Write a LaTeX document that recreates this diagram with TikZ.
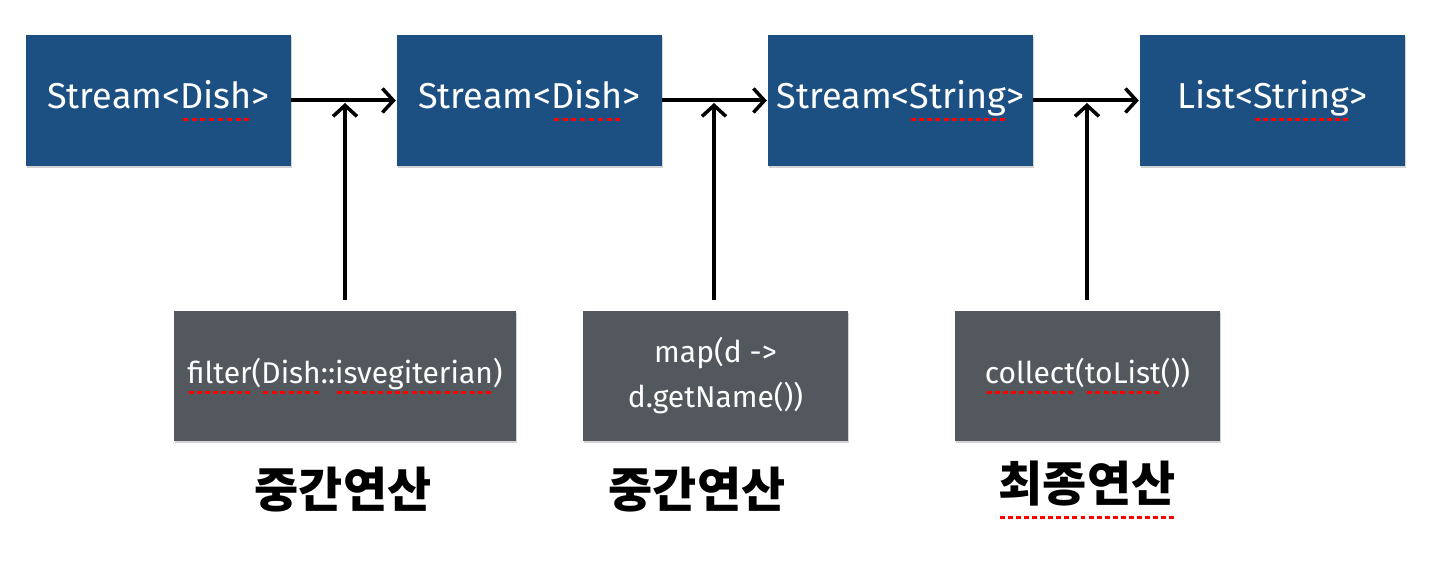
\documentclass[tikz,border=0pt]{standalone}
\usepackage{fontspec}
\setmainfont{Fira Sans}
\newfontfamily\kr{Noto Sans CJK KR}
\usetikzlibrary{arrows.meta,shadows}
\definecolor{boxblue}{HTML}{1C4F82}
\definecolor{boxgrey}{HTML}{53575E}
\newcommand\sq[1]{\setbox0\hbox{#1}\rlap{\copy0}\raisebox{-0.36em}{\color{red}\hbox to \wd0{\xleaders\hbox to 8pt{\hss\vrule width 5pt height 3pt depth 0pt\hss}\hfill}}}
\tikzset{
  topbox/.style={fill=boxblue, minimum width=265pt, minimum height=131pt, inner sep=0pt, text=white,
    font=\fontsize{36}{40}\selectfont, drop shadow={opacity=0.35, shadow xshift=1pt, shadow yshift=-2pt}},
  opbox/.style={fill=boxgrey, minimum height=130pt, inner sep=0pt, text=white, align=center,
    font=\fontsize{30}{45}\selectfont, drop shadow={opacity=0.35, shadow xshift=1pt, shadow yshift=-2pt}},
  kind/.style={font=\kr\bfseries\fontsize{48}{52}\selectfont, text=black},
  flow/.style={line width=4pt, black, -{Straight Barb[length=11pt,width=24pt,line width=3.5pt]}, shorten >=1pt}
}
\begin{document}
\begin{tikzpicture}[x=1pt,y=-1pt]
\useasboundingbox (0,0) rectangle (1456,564);
\node[topbox] (s1) at (158.5,100.5) {\raisebox{-3pt}{Stream<\sq{Dish}>}};
\node[topbox] (s2) at (529.5,100.5) {\raisebox{-3pt}{Stream<\sq{Dish}>}};
\node[topbox] (s3) at (900.5,100.5) {\raisebox{-3pt}{Stream<\sq{String}>}};
\node[topbox] (s4) at (1272.5,100.5) {\raisebox{-3pt}{List<\sq{String}>}};
\node[opbox, minimum width=342pt] (o1) at (345,376) {\sq{filter}(\sq{Dish}::\sq{isvegiterian})};
\node[opbox, minimum width=265pt] (o2) at (715.5,376) {map(d ->\\d.getName())};
\node[opbox, minimum width=265pt] (o3) at (1087.5,376) {\sq{collect}(\sq{toList}())};
\node[kind] (k1) at (343,490) {중간연산};
\node[kind] (k2) at (697,490) {중간연산};
\node[kind] (k3) at (1087,490) {\sq{최종연산}};
\draw[flow] (s1.east) -- (s2.west);
\draw[flow] (s2.east) -- (s3.west);
\draw[flow] (s3.east) -- (s4.west);
\coordinate (v1t) at (345,300); \coordinate (v1h) at (345,102);
\coordinate (v2t) at (714,300); \coordinate (v2h) at (714,102);
\coordinate (v3t) at (1087,300); \coordinate (v3h) at (1087,102);
\draw[flow] (v1t) -- (v1h);
\draw[flow] (v2t) -- (v2h);
\draw[flow] (v3t) -- (v3h);
\end{tikzpicture}
\end{document}
